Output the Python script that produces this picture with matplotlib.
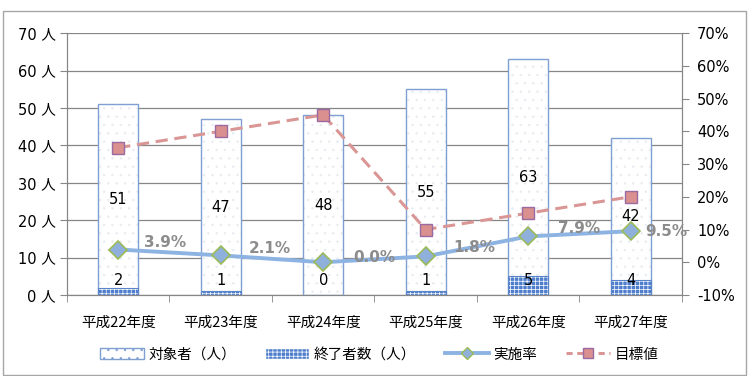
import matplotlib
matplotlib.use('Agg')
import matplotlib.pyplot as plt
import numpy as np
from matplotlib.patches import Patch, Rectangle
from matplotlib.lines import Line2D
from matplotlib.ticker import FuncFormatter

plt.rcParams['font.family'] = ['DejaVu Sans', 'Noto Sans CJK JP']
plt.rcParams['hatch.linewidth'] = 0.5

# data
years = ['平成22年度', '平成23年度', '平成24年度', '平成25年度', '平成26年度', '平成27年度']
targets = [51, 47, 48, 55, 63, 42]         # 対象者（人）
finished = [2, 1, 0, 1, 5, 4]              # 終了者数（人）
rate = [3.9, 2.1, 0.0, 1.8, 7.9, 9.5]      # 実施率 (%)
goal = [35, 40, 45, 10, 15, 20]            # 目標値 (%)

JP = ['Noto Sans CJK JP', 'DejaVu Sans']
edge_blue = '#7f9fd3'
line_blue = '#8db3e2'
pink = '#d99694'

fig = plt.figure(figsize=(7.51, 3.76), dpi=100)
ax = fig.add_axes([0.0892, 0.2154, 0.8188, 0.6966])
ax2 = ax.twinx()

x = np.arange(len(years))
w = 0.39

# 対象者 bars: faint dotted fill + blue outline
ax.bar(x, targets, w, color='white', hatch='..', edgecolor='#e6ebf3', linewidth=0, zorder=2)
ax.bar(x, targets, w, fill=False, edgecolor=edge_blue, linewidth=1.0, zorder=3)
# 終了者数 bars: blue with white pattern
ax.bar(x, finished, w, color='#4f7fcc', hatch='++++', edgecolor='white', linewidth=0, zorder=3)
ax.bar(x, finished, w, fill=False, edgecolor='#5b84c8', linewidth=0.8, zorder=3)

ax.set_xlim(-0.5, len(years) - 0.5)
ax.set_ylim(0, 70)
ax.set_yticks(range(0, 71, 10))
ax.yaxis.set_major_formatter(FuncFormatter(lambda v, p: f'{int(v)} 人'))
ax.grid(axis='y', color='#868686', linewidth=0.9, zorder=0)
ax.set_axisbelow(True)
ax.set_xticks(x)
ax.set_xticklabels(years, fontfamily=JP, fontsize=10.5)
ax.set_xticks(np.arange(-0.5, len(years)), minor=True)
ax.tick_params(axis='x', which='major', length=0, pad=15)
ax.tick_params(axis='x', which='minor', length=5, color='#868686')
ax.tick_params(axis='y', length=5, color='#868686', labelsize=10.5, pad=3)

for a in (ax, ax2):
    a.spines['top'].set_visible(False)
    for s in ('left', 'right', 'bottom'):
        a.spines[s].set_color('#868686')

# lines on secondary axis
ax2.set_ylim(-10, 70)
ax2.set_yticks(range(-10, 71, 10))
ax2.yaxis.set_major_formatter(FuncFormatter(lambda v, p: f'{int(v)}%'))
ax2.tick_params(axis='y', length=5, color='#868686', labelsize=10.5, pad=6)

ax2.plot(x, rate, color=line_blue, linewidth=2.8, marker='D', markersize=9,
         markerfacecolor='#8fb0db', markeredgecolor='#9bbb59', markeredgewidth=1.2, zorder=4)
ax2.plot(x, goal, color=pink, linewidth=2.2, linestyle=(0, (4, 2.2)), marker='s', markersize=8,
         markerfacecolor='#d9908e', markeredgecolor='#9a6aa0', markeredgewidth=1.0, zorder=4)

# bar labels (drawn on top)
for xi, t, f in zip(x, targets, finished):
    ax2.text(xi, t / 2, str(t), transform=ax.transData, ha='center', va='center',
             fontsize=10.5, zorder=6)
    ax2.text(xi, 4, str(f), transform=ax.transData, ha='center', va='center',
             fontsize=10.5, zorder=6)

# rate labels
offsets = [(26, 7), (28, 7), (30, 5), (28, 9), (30, 8), (15, 0)]
for xi, r, (dx, dy) in zip(x, rate, offsets):
    ax2.annotate(f'{r:.1f}%', (xi, r), xytext=(dx, dy), textcoords='offset pixels',
                 ha='left', va='center', fontsize=11, fontweight='bold', color='#8c8c8c', zorder=6)

handles = [
    Patch(facecolor='white', edgecolor=edge_blue, hatch='..'),
    Patch(facecolor='#4f7fcc', edgecolor='white', hatch='++++'),
    Line2D([0], [0], color=line_blue, linewidth=2.8, marker='D', markersize=6,
           markerfacecolor='#8fb0db', markeredgecolor='#9bbb59'),
    Line2D([0], [0], color=pink, linewidth=2.2, linestyle=(0, (2, 1.5)), marker='s', markersize=7,
           markerfacecolor='#d9908e', markeredgecolor='#9a6aa0'),
]
labels = ['対象者（人）', '終了者数（人）', '実施率', '目標値']
fig.legend(handles, labels, loc='center', bbox_to_anchor=(0.505, 0.057), ncol=4, frameon=False,
           prop={'family': JP, 'size': 10.5}, handlelength=3.0, handleheight=0.7,
           columnspacing=2.0, handletextpad=0.3)

# outer chart border
fig.patches.append(Rectangle((0.004, 0.003), 0.99, 0.968, transform=fig.transFigure,
                             fill=False, edgecolor='#a6a6a6', linewidth=1.0))

fig.savefig('out.png', dpi=100)
